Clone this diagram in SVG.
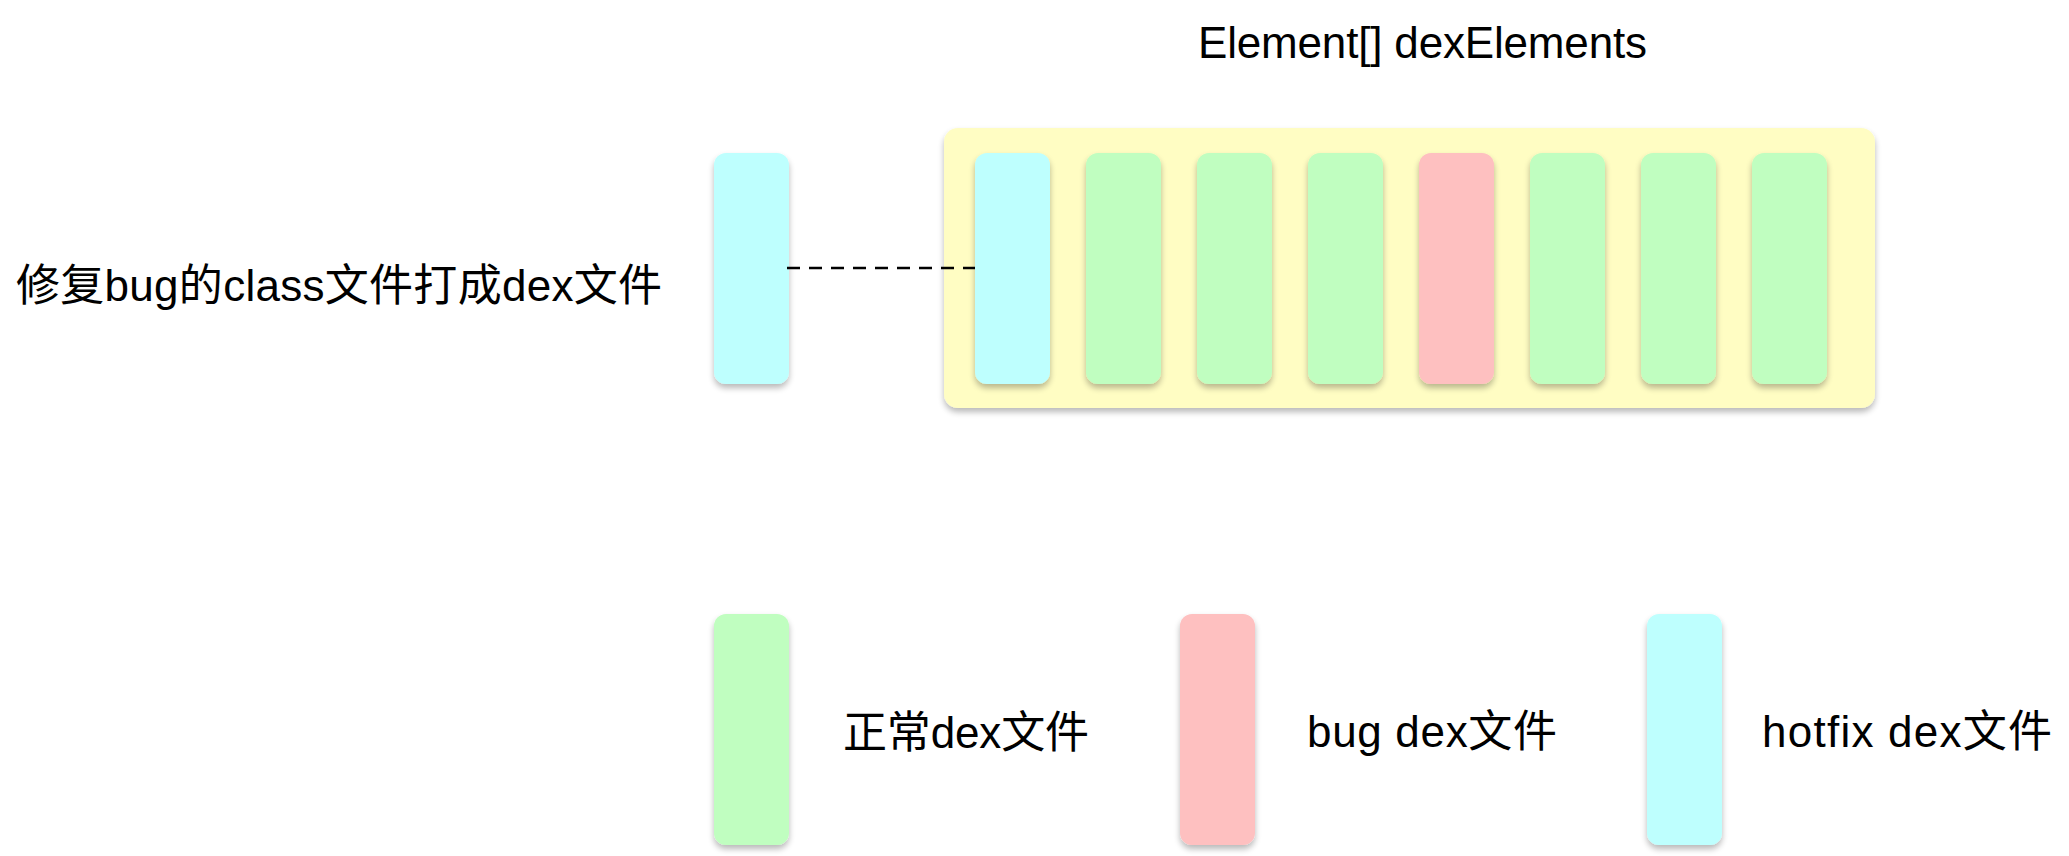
<svg xmlns="http://www.w3.org/2000/svg" width="2069" height="856" viewBox="0 0 2069 856">
<defs>
<filter id="sh" x="-30%" y="-10%" width="160%" height="125%">
<feGaussianBlur in="SourceAlpha" stdDeviation="3"/>
<feOffset dx="0" dy="4" result="b"/>
<feComponentTransfer><feFuncA type="linear" slope="0.28"/></feComponentTransfer>
<feMerge><feMergeNode/><feMergeNode in="SourceGraphic"/></feMerge>
</filter>
</defs>
<style>
.t{font-family:"Liberation Sans","Noto Sans CJK SC",sans-serif;font-size:44px;fill:#000}
.bar{filter:url(#sh)}
.cy{fill:#BEFFFE}
.gr{fill:#C0FEC0}
.rd{fill:#FEC0C0}
.cont{fill:#FFFDC3;filter:url(#sh)}
.dash{stroke:#000;stroke-width:2.6;stroke-dasharray:13 9;fill:none}
</style>
<rect width="2069" height="856" fill="#fff"/>
<g id="title"><text class="t" x="1198" y="58" textLength="449" lengthAdjust="spacing">Element[] dexElements</text></g>
<g id="label-left"><text class="t" x="16" y="301" textLength="646" lengthAdjust="spacing">修复bug的class文件打成dex文件</text></g>
<g id="hotfix-source"><rect class="bar cy" x="714" y="153" width="75" height="231" rx="12"/></g>
<g id="dexElements"><rect class="cont" x="944" y="128" width="931" height="280" rx="14"/></g>
<g id="connectors"><line class="dash" x1="787" y1="268" x2="976" y2="268"/></g>
<g id="elem1"><rect class="bar cy" x="975" y="153" width="75" height="231" rx="12"/></g>
<g id="elem2"><rect class="bar gr" x="1086" y="153" width="75" height="231" rx="12"/></g>
<g id="elem3"><rect class="bar gr" x="1197" y="153" width="75" height="231" rx="12"/></g>
<g id="elem4"><rect class="bar gr" x="1308" y="153" width="75" height="231" rx="12"/></g>
<g id="elem5"><rect class="bar rd" x="1419" y="153" width="75" height="231" rx="12"/></g>
<g id="elem6"><rect class="bar gr" x="1530" y="153" width="75" height="231" rx="12"/></g>
<g id="elem7"><rect class="bar gr" x="1641" y="153" width="75" height="231" rx="12"/></g>
<g id="elem8"><rect class="bar gr" x="1752" y="153" width="75" height="231" rx="12"/></g>
<g id="legend-normal"><rect class="bar gr" x="714" y="614" width="75" height="231" rx="12"/><text class="t" x="843" y="748" textLength="246" lengthAdjust="spacing">正常dex文件</text></g>
<g id="legend-bug"><rect class="bar rd" x="1180" y="614" width="75" height="231" rx="12"/><text class="t" x="1307" y="747" textLength="250" lengthAdjust="spacing">bug dex文件</text></g>
<g id="legend-hotfix"><rect class="bar cy" x="1647" y="614" width="75" height="231" rx="12"/><text class="t" x="1762" y="747" textLength="290" lengthAdjust="spacing">hotfix dex文件</text></g>
</svg>
